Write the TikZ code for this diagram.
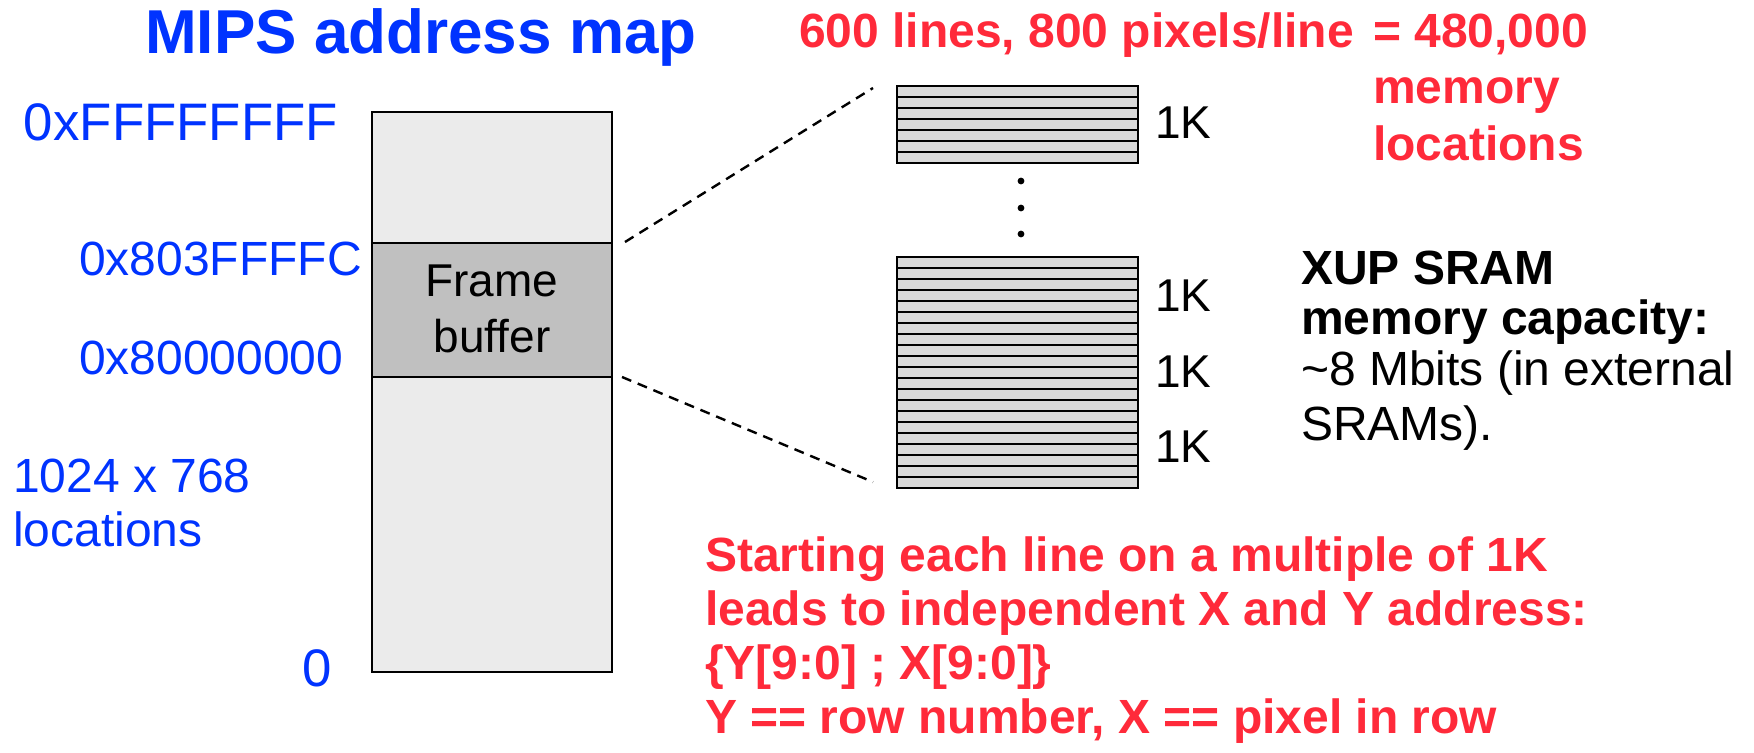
\documentclass[tikz,border=0pt]{standalone}
\usepackage{fontspec}
\usetikzlibrary{calc}
\setmainfont{Liberation Sans}
\definecolor{mipsblue}{RGB}{0,51,255}
\definecolor{notered}{RGB}{255,42,58}
\definecolor{memgray}{RGB}{235,235,235}
\definecolor{fbgray}{RGB}{192,192,192}
\definecolor{rowgray}{RGB}{217,217,217}
\begin{document}
\begin{tikzpicture}[x=0.5pt,y=-0.5pt,
  every node/.style={inner sep=0pt, outer sep=0pt},
  titletxt/.style={text=mipsblue, font=\fontsize{31}{36}\selectfont\bfseries, anchor=base},
  addrtxt/.style={text=mipsblue, font=\fontsize{24}{28}\selectfont, anchor=base west},
  bluetxt/.style={text=mipsblue, font=\fontsize{24}{28}\selectfont, anchor=base west},
  boxtxt/.style={text=black, font=\fontsize{23}{27}\selectfont, anchor=base},
  ktxt/.style={text=black, font=\fontsize{23}{27}\selectfont, anchor=base west},
  redtxt/.style={text=notered, font=\fontsize{24}{28}\selectfont\bfseries, anchor=base west},
  sramhead/.style={text=black, font=\fontsize{24}{28}\selectfont\bfseries, anchor=base west},
  sramtxt/.style={text=black, font=\fontsize{24}{28}\selectfont, anchor=base west},
  region/.style={draw=black, line width=1.1pt, anchor=north west, minimum width=120pt},
  rowblock/.style={draw=black, fill=rowgray, line width=1.4pt, anchor=north west,
                   minimum width=120.5pt, minimum height=38.5pt},
  rowline/.style={draw=black, line width=1.2pt},
  zoomline/.style={draw=black, line width=1.2pt, dash pattern=on 5pt off 3.5pt}
]
\useasboundingbox (0,0) rectangle (1754,753);

% title
\node[titletxt] (title) at (421,54) {MIPS address map};

% address space column
\node[region, fill=memgray, minimum height=280pt] (mem) at (372,112) {};
\node[region, fill=fbgray, minimum height=67pt] (fb) at (372,243) {};
\node[boxtxt] (fbl1) at (492,297) {Frame};
\node[boxtxt] (fbl2) at (492,352) {buffer};

% address labels
\node[addrtxt, font=\fontsize{26.4}{30}\selectfont] (atop) at (24,141) {0xFFFFFFFF};
\node[addrtxt] (afbtop) at (79,276) {0x803FFFFC};
\node[addrtxt] (afbbot) at (79,374) {0x80000000};
\node[bluetxt] (size1) at (13,492) {1024 x 768};
\node[bluetxt] (size2) at (13,546) {locations};
\node[addrtxt, font=\fontsize{26.4}{30}\selectfont] (azero) at (302,686) {0};

% frame buffer rows, 1K each, seven lines per row
\node[rowblock] (b1) at (897,86) {};
\node[rowblock] (b2) at (897,257) {};
\node[rowblock] (b3) at (897,334) {};
\node[rowblock] (b4) at (897,411) {};
\foreach \top in {86,257,334,411}{
  \foreach \k in {1,...,6}{
    \draw[rowline] (897,{\top+11*\k}) -- (1138,{\top+11*\k});
  }
  \draw[line width=1.4pt] (897,\top) rectangle (1138,{\top+77});
}
\node[ktxt] (k1) at (1155,139) {1K};
\node[ktxt] (k2) at (1155,312) {1K};
\node[ktxt] (k3) at (1155,387) {1K};
\node[ktxt] (k4) at (1155,462) {1K};

% ellipsis between the rows
\foreach \yy in {181,208,234}{
  \fill (1021,\yy) circle[radius=1.7pt];
}

% zoom lines from the frame buffer to the rows
\draw[zoomline] ([xshift=6.5pt,yshift=0.5pt]fb.north east) -- ([xshift=-12pt,yshift=-1pt]b1.north west);
\draw[zoomline] ([xshift=5pt]fb.south east) -- ([xshift=-12pt,yshift=3pt]b4.south west);

% notes
\node[redtxt] (n1) at (799,48) {600 lines, 800 pixels/line};
\node[redtxt] (n2) at (1373,48) {= 480,000};
\node[redtxt] (n3) at (1373,104) {memory};
\node[redtxt] (n4) at (1373,161) {locations};

\node[sramhead] (s1) at (1301,285) {XUP SRAM};
\node[sramhead] (s2) at (1301,335) {memory capacity:};
\node[sramtxt] (s3) at (1301,386) {\char`\~8 Mbits (in external};
\node[sramtxt] (s4) at (1301,440) {SRAMs).};

\node[redtxt] (r1) at (705,571) {Starting each line on a multiple of 1K};
\node[redtxt] (r2) at (705,625) {leads to independent X and Y address:};
\node[redtxt] (r3) at (705,679) {\{Y[9:0] ; X[9:0]\}};
\node[redtxt] (r4) at (705,733) {Y == row number, X == pixel in row};
\end{tikzpicture}
\end{document}
